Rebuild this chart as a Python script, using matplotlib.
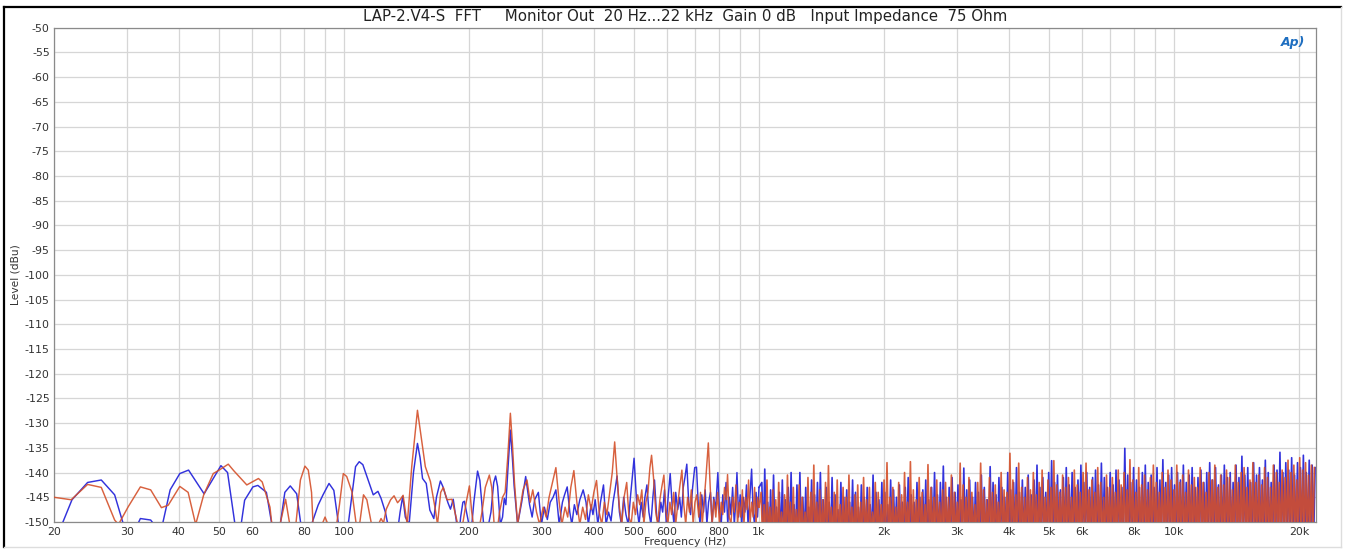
import numpy as np
import matplotlib
matplotlib.use("Agg")
import matplotlib.pyplot as plt
from matplotlib.ticker import FixedLocator, FixedFormatter, NullFormatter
from matplotlib.lines import Line2D

plt.rcParams['font.family'] = ['DejaVu Sans']
plt.rcParams['axes.unicode_minus'] = False

# ---------------- text ----------------
title = "LAP-2.V4-S  FFT     Monitor Out  20 Hz...22 kHz  Gain 0 dB   Input Impedance  75 Ohm"
x_label = "Frequency (Hz)"
y_label = "Level (dBu)"
logo_text = "Ap)"

x_ticks = [20, 30, 40, 50, 60, 80, 100, 200, 300, 400, 500, 600, 800,
           1000, 2000, 3000, 4000, 5000, 6000, 8000, 10000, 20000]
x_tick_labels = ["20", "30", "40", "50", "60", "80", "100", "200", "300", "400",
                 "500", "600", "800", "1k", "2k", "3k", "4k", "5k", "6k", "8k",
                 "10k", "20k"]
x_grid = [20, 30, 40, 50, 60, 70, 80, 90, 100, 200, 300, 400, 500, 600, 700, 800, 900,
          1000, 2000, 3000, 4000, 5000, 6000, 7000, 8000, 9000, 10000, 20000]
y_ticks = list(range(-150, -49, 5))

# ---------------- data: low / mid frequency vertices ----------------
blue_f = [20.0, 20.9, 22.1, 24.1, 26.0, 28.0, 29.4, 30.5, 31.8, 32.3, 34.2, 35.2, 36.4,
          38.1, 40.2, 42.2, 46.0, 50.5, 52.4, 54.6, 55.5, 56.5, 57.6, 60.3, 62.0, 65.0,
          67.0, 68.5, 70.2, 72.0, 74.2, 76.9, 78.7, 81.0, 83.5, 86.6, 89.0, 92.0, 94.5,
          97.0, 99.5, 102.6, 106.6, 108.8, 111.0, 115.0, 117.6, 120.7, 122.8, 125.8,
          127.5, 129.0, 134.0, 136.5, 138.5, 140.5, 143.5, 147.0, 150.3, 152.5, 154.6,
          157.8, 161.0, 164.6, 167.0, 170.7, 173.0, 178.0, 180.5, 183.3, 187.0, 189.0,
          191.0, 193.4, 195.0, 200.0, 202.0, 205.5, 209.8, 212.5, 217.0, 220.0, 226.0,
          229.5, 231.9, 234.5, 238.0, 241.0, 243.3, 245.5, 248.0, 251.7, 254.5, 257.0,
          262.0,
          268, 274, 280, 284, 288, 294, 299, 304, 309, 314, 319, 324, 330, 336, 340, 345,
          350, 354, 359, 364, 370, 377, 383, 388, 394, 398, 403, 409, 415, 422, 428, 434,
          440, 445, 450, 455, 461, 466, 472, 478, 484, 490, 500, 508, 514, 520, 526, 531,
          537, 543, 549, 555, 560, 567, 573, 580, 586, 592, 598, 604, 611, 618, 624, 630,
          637, 644, 650, 657, 663, 670, 677, 684, 692, 700, 707, 714, 721, 728, 735, 742,
          749, 756, 764, 771, 778, 786, 796, 803, 811, 818, 826, 833, 841, 849, 856, 864,
          872, 879, 885, 893, 901, 909, 917, 925, 933, 941, 949, 960, 968, 976, 984, 992,
          1000]
blue_db = [-153, -150.5, -145.5, -142.0, -141.5, -144.5, -150.5, -155, -150.5, -149.3,
           -149.6, -151, -151, -143.5, -140.2, -139.5, -144.3, -138.6, -140.0, -150.5,
           -155, -150.5, -145.6, -142.9, -142.6, -144.0, -150.5, -155, -150.5, -144.0,
           -142.7, -144.3, -150.5, -155, -150.5, -146.6, -144.5, -142.2, -143.6, -150.5,
           -155, -149.8, -138.8, -137.8, -138.4, -142.1, -144.5, -143.8, -145.2, -148.0,
           -150.5, -153, -153, -148.0, -144.8, -149.0, -150.5, -140.0, -134.1, -137.0,
           -141.2, -142.2, -147.6, -149.3, -145.0, -141.7, -142.8, -146.1, -147.4, -145.4,
           -150.5, -153, -149.0, -146.0, -145.8, -150.5, -153, -146.0, -139.7, -141.6,
           -150.5, -153, -148.0, -142.0, -140.7, -142.8, -150.5, -149.0, -145.2, -146.5,
           -140.0, -131.4, -137.0, -142.7, -150.5,
           -146, -140.8, -146.5, -149, -145.5, -144, -150.5, -147, -149.5, -146, -145,
           -143.5, -150.5, -146, -144.5, -142.9, -148, -150.5, -146.5, -148.5, -145.5,
           -143.5, -146, -150.5, -146.5, -148.5, -145.5, -150.5, -146, -142.5, -150.5,
           -148, -149.8, -146, -143.5, -140.7, -148, -150.5, -145, -148.5, -150.5, -145,
           -137.1, -147, -150.5, -146, -149, -145, -142.5, -148, -150.5, -145, -141.5,
           -149, -150.5, -146, -148, -143.5, -150.5, -145, -140.2, -147, -150.5, -144,
           -147.5, -145, -149, -143, -141, -138.3, -146, -148.5, -143, -139, -138.9,
           -146.5, -150.5, -144.5, -148, -143.5, -150.5, -146, -144, -150.5, -145, -147.5,
           -140, -148, -150.5, -144.5, -148, -142, -150.5, -145, -148.5, -143, -150.5,
           -146, -140, -149, -144.5, -150.5, -145, -148, -142.5, -150.5, -146, -139.3,
           -148, -150.5, -144, -149, -143]

orange_f = [20.0, 22.0, 24.1, 26.0, 28.0, 28.6, 30.2, 32.3, 34.2, 36.3, 37.7, 40.2, 42.1,
            43.9, 45.9, 48.4, 50.0, 52.6, 54.2, 58.3, 62.2, 63.5, 66.3, 67.0, 68.5, 70.1,
            72.3, 74.0, 76.0, 78.5, 80.5, 82.0, 83.5, 84.2, 88.5, 90.0, 91.5, 95.0, 97.5,
            99.6, 101.5, 104.5, 107.0, 109.0, 111.4, 113.5, 116.5, 121.0, 122.8, 124.5,
            126.4, 129.5, 132.0, 134.6, 136.5, 138.8, 142.0, 145.6, 150.3, 153.0, 157.0,
            161.5, 166.0, 168.0, 171.0, 173.5, 177.0, 182.0, 188.0, 191.0, 194.0, 197.0,
            200.5, 203.0, 205.0, 210.0, 215.0, 219.0, 224.0, 227.0, 230.0, 233.0, 237.0,
            241.0, 244.5, 248.0, 251.7, 254.5, 257.5, 262.0,
            266, 270, 276, 281, 285, 291, 296, 302, 307, 312, 318, 324, 330, 335, 341, 346,
            352, 358, 364, 370, 376, 382, 388, 394, 400, 406, 412, 418, 424, 430, 436, 443,
            449, 455, 461, 467, 473, 480, 486, 492, 498, 504, 510, 516, 522, 528, 534, 540,
            546, 551, 557, 564, 570, 577, 583, 590, 597, 603, 610, 616, 623, 630, 637, 644,
            652, 659, 666, 673, 680, 687, 694, 701, 708, 716, 723, 730, 737, 745, 755, 763,
            771, 779, 787, 795, 803, 811, 818, 826, 834, 840, 848, 856, 864, 872, 880, 888,
            896, 904, 912, 920, 928, 936, 944, 952, 960, 968, 976, 984, 992, 1000]
orange_db = [-145.0, -145.5, -142.4, -143.0, -149.6, -150.5, -146.9, -142.9, -143.5,
             -147.1, -146.6, -142.8, -144.0, -150.5, -144.5, -140.2, -139.5, -138.3,
             -139.6, -142.5, -141.2, -141.9, -147.0, -150.5, -153, -150.5, -145.4, -150.5,
             -153, -141.5, -138.7, -139.5, -144.0, -150.5, -150.5, -149.0, -150.5, -153,
             -146.5, -140.2, -140.8, -143.9, -150.5, -150.5, -144.5, -145.5, -150.5,
             -150.5, -149.3, -150.2, -147.4, -145.5, -144.7, -146.1, -145.5, -144.6,
             -150.5, -138.8, -127.4, -132.0, -138.8, -141.8, -147.5, -150.5, -144.0,
             -143.0, -145.5, -145.4, -150.5, -153, -149.5, -146.0, -142.7, -147.8, -150.5,
             -153, -148.0, -143.0, -140.5, -143.0, -150.5, -153, -148.0, -145.0, -144.0,
             -137.0, -128.0, -134.0, -142.0, -150.5,
             -147, -143.5, -141.5, -146, -143.5, -148, -150.5, -147, -149, -145, -142,
             -139, -146, -150.5, -147, -149, -143, -139.6, -146, -150.5, -147, -149.5,
             -144.5, -147.5, -144, -141.6, -148, -150.5, -146, -148.5, -144.5, -140,
             -133.8, -141, -147, -150.5, -145, -142, -149, -150.5, -146, -148.5, -144.5,
             -146.5, -143.5, -150.5, -146, -144, -139, -136.5, -141, -148, -150.5, -145.5,
             -143, -140.5, -148, -150.5, -146, -148.5, -144, -150.5, -146.5, -143, -139.5,
             -146.5, -150.5, -145, -148, -143.5, -150.5, -146, -144.5, -149, -144, -150.5,
             -146, -141, -134, -143, -150.5, -145.5, -149, -144, -150.5, -146, -148.5,
             -143, -145.5, -140.4, -149, -150.5, -145, -148, -142.5, -150.5, -146, -149,
             -143.5, -150.5, -145, -147.5, -141.5, -150.5, -146, -149, -143, -150.5, -145,
             -147]

# ---------------- data: dense high-frequency peaks (1 kHz .. 22 kHz) ----------------
orange_dense_db = [
    -144, -146.5, -141.5, -147, -143.5, -145.5, -142, -148, -144.5, -140.5,
    -146, -143, -147.5, -142.5, -145, -148, -141, -144, -138.5, -146,
    -143.5, -145.5, -142, -138.6, -147, -144, -141.5, -146.5, -143, -145,
    -140.5, -147, -144.5, -142.5, -146, -141, -145.5, -143, -148, -142,
    -144, -146.5, -141.5, -138, -145, -143, -147, -142, -144.5, -140,
    -146, -137.8, -143.5, -145.5, -141, -144, -146.5, -138.4, -143, -145,
    -141.5, -146, -143.5, -142, -145, -140.5, -144, -146, -138.1, -142.5,
    -145, -141, -144, -146.5, -142, -138.1, -143.5, -145.5, -141, -144,
    -142.5, -146, -140, -143.5, -144, -136.1, -141.5, -144.5, -138.1, -143,
    -145, -141, -143.5, -140, -144.5, -142, -139.5, -145, -141.5, -143,
    -137.6, -142.5, -144, -140.5, -143, -141, -145, -139.5, -142.5, -144,
    -140, -138.1, -143.5, -141.5, -144, -139, -142, -145, -140.5, -143,
    -141, -144, -139.5, -142.5, -140, -143.5, -137.4, -141.5, -144, -139,
    -142.5, -140.5, -143.5, -141, -138.5, -142, -144, -140, -143, -139.5,
    -141.5, -143.5, -138.5, -142, -140.5, -144, -139.5, -142.5, -141, -143,
    -139, -142, -144, -140, -141.5, -138.5, -143, -140.5, -142.5, -139.5,
    -141, -143.5, -138.5, -142, -140, -139, -143, -141.5, -138, -142,
    -140.5, -142.5, -139, -141, -143, -138.5, -140, -142, -139.5, -141,
    -137.5, -140, -138.5, -141.5, -137, -139.5, -138, -140.5, -138.5, -139]
blue_dense_db = [
    -142, -139.3, -146, -143.5, -140.5, -147, -144, -141.5, -145.5, -143,
    -140, -146.5, -142.5, -140, -145, -143, -147, -141.5, -144.5, -142,
    -140, -145.5, -143, -146, -141, -144.5, -147.5, -142, -145, -143.5,
    -146, -141.5, -144, -147, -142.5, -145, -143, -146.5, -140.5, -144,
    -145.5, -142, -144, -146.5, -141.5, -143.5, -145, -142.5, -146, -143,
    -141, -144.5, -146, -142, -145, -143.5, -141.5, -145.5, -143, -140,
    -144.5, -142, -138.7, -145, -143, -141, -144, -142.5, -145.5, -139.1,
    -143.5, -141.5, -145, -142, -144, -140.5, -143, -145.5, -138.8, -142,
    -144.5, -141, -143, -145, -140, -143.5, -142, -139, -144, -141.5,
    -143, -140.5, -144.5, -141.5, -138.5, -143, -141, -144, -140, -137.6,
    -142, -140.5, -143.5, -141, -139, -142.5, -140, -143, -141.5, -138.5,
    -142, -140, -143, -141, -139.5, -142.5, -138.1, -141, -143, -140,
    -142.5, -139.5, -141.5, -143, -135.1, -140.5, -142, -139, -141.5, -143,
    -140, -138.5, -142, -140.5, -143, -139, -141.5, -137.4, -142, -140.5,
    -139, -142.5, -140, -141.5, -138.5, -142, -140.5, -139, -143, -141,
    -139.5, -142, -140, -138, -141.5, -139, -142.5, -140.5, -138.5, -141,
    -140, -142, -138.5, -141, -136.7, -140.5, -139, -142, -138, -140.5,
    -139, -141.5, -137.5, -140, -142, -138.5, -139.5, -135.9, -140, -138,
    -139.5, -137, -140.5, -138, -139, -136.5, -140, -137.5, -138.5, -139]
orange_dense_range = (1012.0, 21800.0)
blue_dense_range = (1016.0, 21888.0)
dense_valley_db = -154.0

blue_color = '#3232dc'
orange_color = '#d4502a'


def dense_series(peaks, f_range, valley, start_f, start_db):
    fp = np.geomspace(f_range[0], f_range[1], len(peaks))
    fv = np.sqrt(fp[:-1] * fp[1:])
    f = np.empty(2 * len(fp) - 1)
    d = np.empty_like(f)
    f[0::2] = fp
    f[1::2] = fv
    d[0::2] = peaks
    d[1::2] = valley
    return np.concatenate([[start_f], f]), np.concatenate([[start_db], d])


bf2, bd2 = dense_series(blue_dense_db, blue_dense_range, dense_valley_db, blue_f[-1], blue_db[-1])
of2, od2 = dense_series(orange_dense_db, orange_dense_range, dense_valley_db, orange_f[-1], orange_db[-1])

W, H = 1346, 550
fig = plt.figure(figsize=(W / 100, H / 100), dpi=100)
ax = fig.add_axes([54 / W, (H - 522) / H, (1316 - 54) / W, (522 - 27.7) / H])

ax.plot(blue_f, blue_db, color=blue_color, lw=1.05, zorder=3)
ax.plot(bf2, bd2, color=blue_color, lw=1.2, zorder=3)
ax.plot(orange_f, orange_db, color=orange_color, lw=1.05, zorder=4, alpha=0.9)
ax.plot(of2, od2, color=orange_color, lw=1.2, zorder=4, alpha=0.9)

ax.set_xscale('log')
ax.set_xlim(20, 22000)
ax.set_ylim(-150, -50)

ax.xaxis.set_major_locator(FixedLocator(x_ticks))
ax.xaxis.set_major_formatter(FixedFormatter(x_tick_labels))
ax.xaxis.set_minor_locator(FixedLocator([g for g in x_grid if g not in x_ticks]))
ax.xaxis.set_minor_formatter(NullFormatter())
ax.yaxis.set_major_locator(FixedLocator(y_ticks))

ax.grid(True, which='both', axis='x', color='#d6d6d6', lw=0.9, zorder=0)
ax.grid(True, which='major', axis='y', color='#d6d6d6', lw=0.9, zorder=0)
ax.tick_params(which='both', length=0, labelsize=7.9, colors='#333333')
ax.tick_params(axis='x', pad=3.5)
ax.tick_params(axis='y', pad=3)
for s in ax.spines.values():
    s.set_color('#8a8a8a')
    s.set_linewidth(0.9)

ax.set_xlabel(x_label, fontsize=7.8, color='#333333', labelpad=0.3)
ax.set_ylabel(y_label, fontsize=7.7, color='#333333', labelpad=3)
fig.text(685 / W, 1 - 16 / H, title, ha='center', va='center', fontsize=10.8,
         color='#222222')
ax.text(0.982, 0.971, logo_text, transform=ax.transAxes, ha='center', va='center',
        fontsize=9, fontweight='bold', fontstyle='italic', color='#1e6ec0', zorder=5)

# outer frame
fig.add_artist(Line2D([4 / W, 4 / W], [1 - 7 / H, 1 - 547 / H], transform=fig.transFigure,
                      color='black', lw=1.6))
fig.add_artist(Line2D([4 / W, 1341 / W], [1 - 7 / H, 1 - 7 / H], transform=fig.transFigure,
                      color='black', lw=1.6))
fig.add_artist(Line2D([1341 / W, 1341 / W], [1 - 7 / H, 1 - 547 / H], transform=fig.transFigure,
                      color='#dddddd', lw=1.0))
fig.add_artist(Line2D([4 / W, 1341 / W], [1 - 547 / H, 1 - 547 / H], transform=fig.transFigure,
                      color='#dddddd', lw=1.0))

fig.savefig('out.png', dpi=100)
